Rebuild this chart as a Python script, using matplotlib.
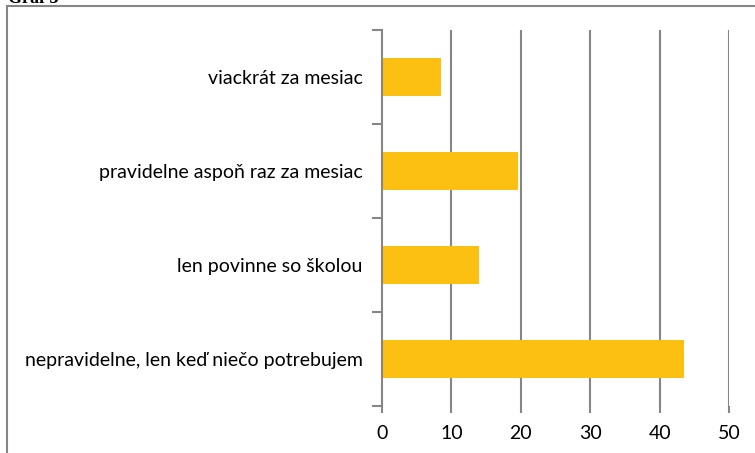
import matplotlib.pyplot as plt
from matplotlib.patches import Rectangle

# Data (bottom to top)
categories = ['nepravidelne, len keď niečo potrebujem',
              'len povinne so školou',
              'pravidelne aspoň raz za mesiac',
              'viackrát za mesiac']
values = [43.5, 14.0, 19.6, 8.5]
x_ticks = [0, 10, 20, 30, 40, 50]

grey = '#868686'
bar_color = '#FBC012'

fig = plt.figure(figsize=(7.55, 4.53), dpi=100)
ax = fig.add_axes([382 / 755, 1 - 406 / 453, (729 - 382) / 755, (406 - 30) / 453])

# outer chart border (cropped on right and bottom)
fig.patches.append(Rectangle((7 / 755, -0.1), 1.2, 1 - 6 / 453 + 0.1,
                             transform=fig.transFigure, fill=False,
                             edgecolor=grey, linewidth=1.5))
fig.text(8 / 755, 1 - 3 / 453, 'Graf 3', family='Liberation Serif',
         fontweight='bold', fontsize=13, va='baseline', ha='left')

pos = list(range(len(categories)))
ax.barh(pos, values, height=0.4, color=bar_color, zorder=3)

ax.set_xlim(0, 50)
ax.set_ylim(-0.5, len(categories) - 0.5)
ax.set_xticks(x_ticks)
ax.set_yticks(pos)
ax.set_yticklabels(categories)
ax.set_yticks([p - 0.5 for p in range(len(categories) + 1)], minor=True)

for x in x_ticks[1:]:
    ax.axvline(x, color=grey, linewidth=1.5, zorder=1)

for s in ['top', 'right', 'bottom']:
    ax.spines[s].set_visible(False)
ax.spines['left'].set_color(grey)
ax.spines['left'].set_linewidth(1.5)
ax.spines['left'].set_zorder(4)

ax.tick_params(axis='y', which='major', length=0, pad=14)
ax.tick_params(axis='y', which='minor', length=7, width=1.5, color=grey)
ax.tick_params(axis='x', length=5, width=1.5, color=grey, pad=9)
for lab in ax.get_xticklabels() + ax.get_yticklabels():
    lab.set_family('Lato')
    lab.set_fontsize(14)

fig.savefig('out.png', dpi=100)
